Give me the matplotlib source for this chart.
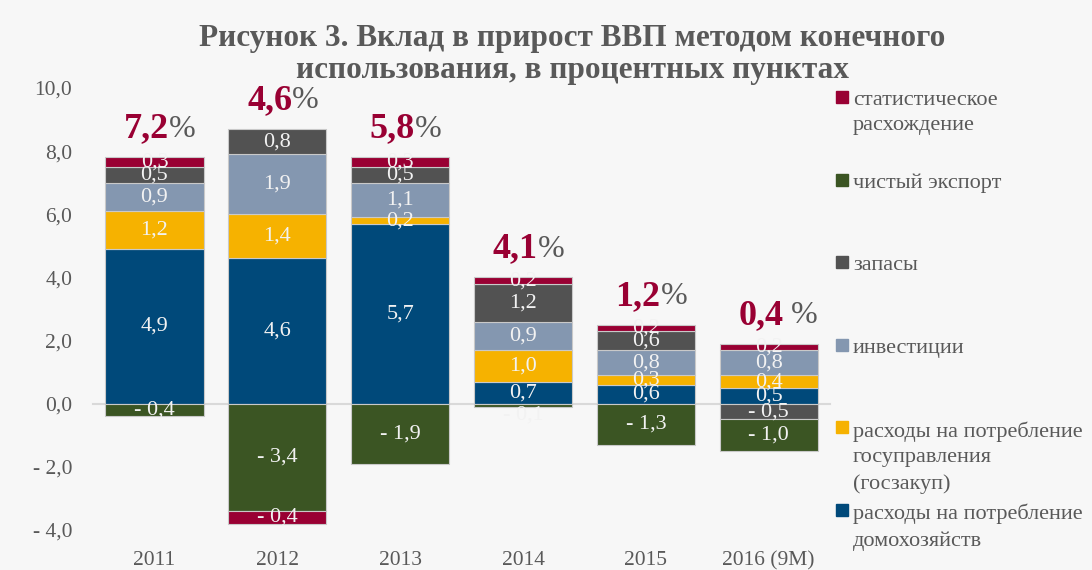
import numpy as np
import matplotlib
matplotlib.use("Agg")
import matplotlib.pyplot as plt
from matplotlib.patches import Rectangle

plt.rcParams["font.family"] = ["Liberation Serif", "DejaVu Serif"]

years = ["2011", "2012", "2013", "2014", "2015", "2016 (9M)"]

households = [4.9, 4.6, 5.7, 0.7, 0.6, 0.5]
government = [1.2, 1.4, 0.2, 1.0, 0.3, 0.4]
investment = [0.9, 1.9, 1.1, 0.9, 0.8, 0.8]
inventories = [0.5, 0.8, 0.5, 1.2, 0.6, -0.5]
net_exports = [-0.4, -3.4, -1.9, -0.1, -1.3, -1.0]
discrepancy = [0.3, -0.4, 0.3, 0.2, 0.2, 0.2]

gdp_growth = [7.2, 4.6, 5.8, 4.1, 1.2, 0.4]
growth_suffix = ["%", "%", "%", "%", "%", " %"]

series = [
    ("расходы на потребление\nдомохозяйств", households, "#00497a"),
    ("расходы на потребление\nгосуправления\n(госзакуп)", government, "#f6b200"),
    ("инвестиции", investment, "#8497b0"),
    ("запасы", inventories, "#525252"),
    ("чистый экспорт", net_exports, "#3b5523"),
    ("статистическое\nрасхождение", discrepancy, "#990033"),
]

BG = "#f7f7f7"
GREY = "#595959"


def fmt(v):
    s = f"{abs(v):.1f}".replace(".", ",")
    return "- " + s if v < 0 else s


fig = plt.figure(figsize=(10.92, 5.70), dpi=100, facecolor=BG)
ax = fig.add_axes([0.0852, 0.0702, 0.675, 0.7754], facecolor=BG)

x = np.arange(len(years))
pos_base = np.zeros(len(years))
neg_base = np.zeros(len(years))

for name, values, color in series:
    vals = np.array(values, dtype=float)
    bottoms = np.where(vals >= 0, pos_base, neg_base)
    ax.bar(x, vals, bottom=bottoms, width=0.8, color=color,
           edgecolor="#c9c9c9", linewidth=0.8, zorder=2)
    for xi, b, v in zip(x, bottoms, vals):
        yc = b + v / 2
        if abs(v) < 0.15:
            yc -= 0.3
        ax.text(xi, yc, fmt(v), ha="center", va="center",
                color="#f2f2f2", fontsize=16, zorder=3)
    pos_base += np.where(vals >= 0, vals, 0)
    neg_base += np.where(vals < 0, vals, 0)

# GDP growth labels above the bars
for xi, top, g, suf in zip(x, pos_base, gdp_growth, growth_suffix):
    y = top + 0.9
    ax.text(xi + 0.12, y, f"{g:.1f}".replace(".", ","), ha="right",
            va="center", color="#990033", fontsize=26, fontweight="bold")
    ax.text(xi + 0.12, y, suf, ha="left", va="center", color=GREY,
            fontsize=23)

ax.axhline(0, color="#d9d9d9", linewidth=1.5, zorder=1, clip_on=False)

ax.set_xlim(-0.5, 5.5)
ax.set_ylim(-4, 10)
ax.set_xticks(x)
ax.set_xticklabels(years)
yt = np.arange(-4, 11, 2)
ax.set_yticks(yt)
ax.set_yticklabels([fmt(v) for v in yt])
ax.tick_params(length=0, labelsize=15.5, colors=GREY)
ax.tick_params(axis="y", pad=15)
ax.tick_params(axis="x", pad=15)
for s in ax.spines.values():
    s.set_visible(False)

fig.text(0.524, 0.933, "Рисунок 3. Вклад в прирост ВВП методом конечного",
         ha="center", va="center", fontsize=22.5, fontweight="bold", color=GREY)
fig.text(0.524, 0.877, "использования, в процентных пунктах",
         ha="center", va="center", fontsize=22.5, fontweight="bold", color=GREY)

# legend, top entry first
leg_y = 97
for name, values, color in reversed(series):
    yf = 1 - leg_y / 570
    fig.add_artist(Rectangle((836 / 1092, yf - 6 / 570), 12 / 1092, 12 / 570,
                             transform=fig.transFigure, color=color))
    fig.text(853 / 1092, yf + 6 / 570, name, ha="left", va="top",
             fontsize=16, color=GREY, linespacing=1.45)
    leg_y += 82.6

fig.savefig("out.png", dpi=100, facecolor=BG)
